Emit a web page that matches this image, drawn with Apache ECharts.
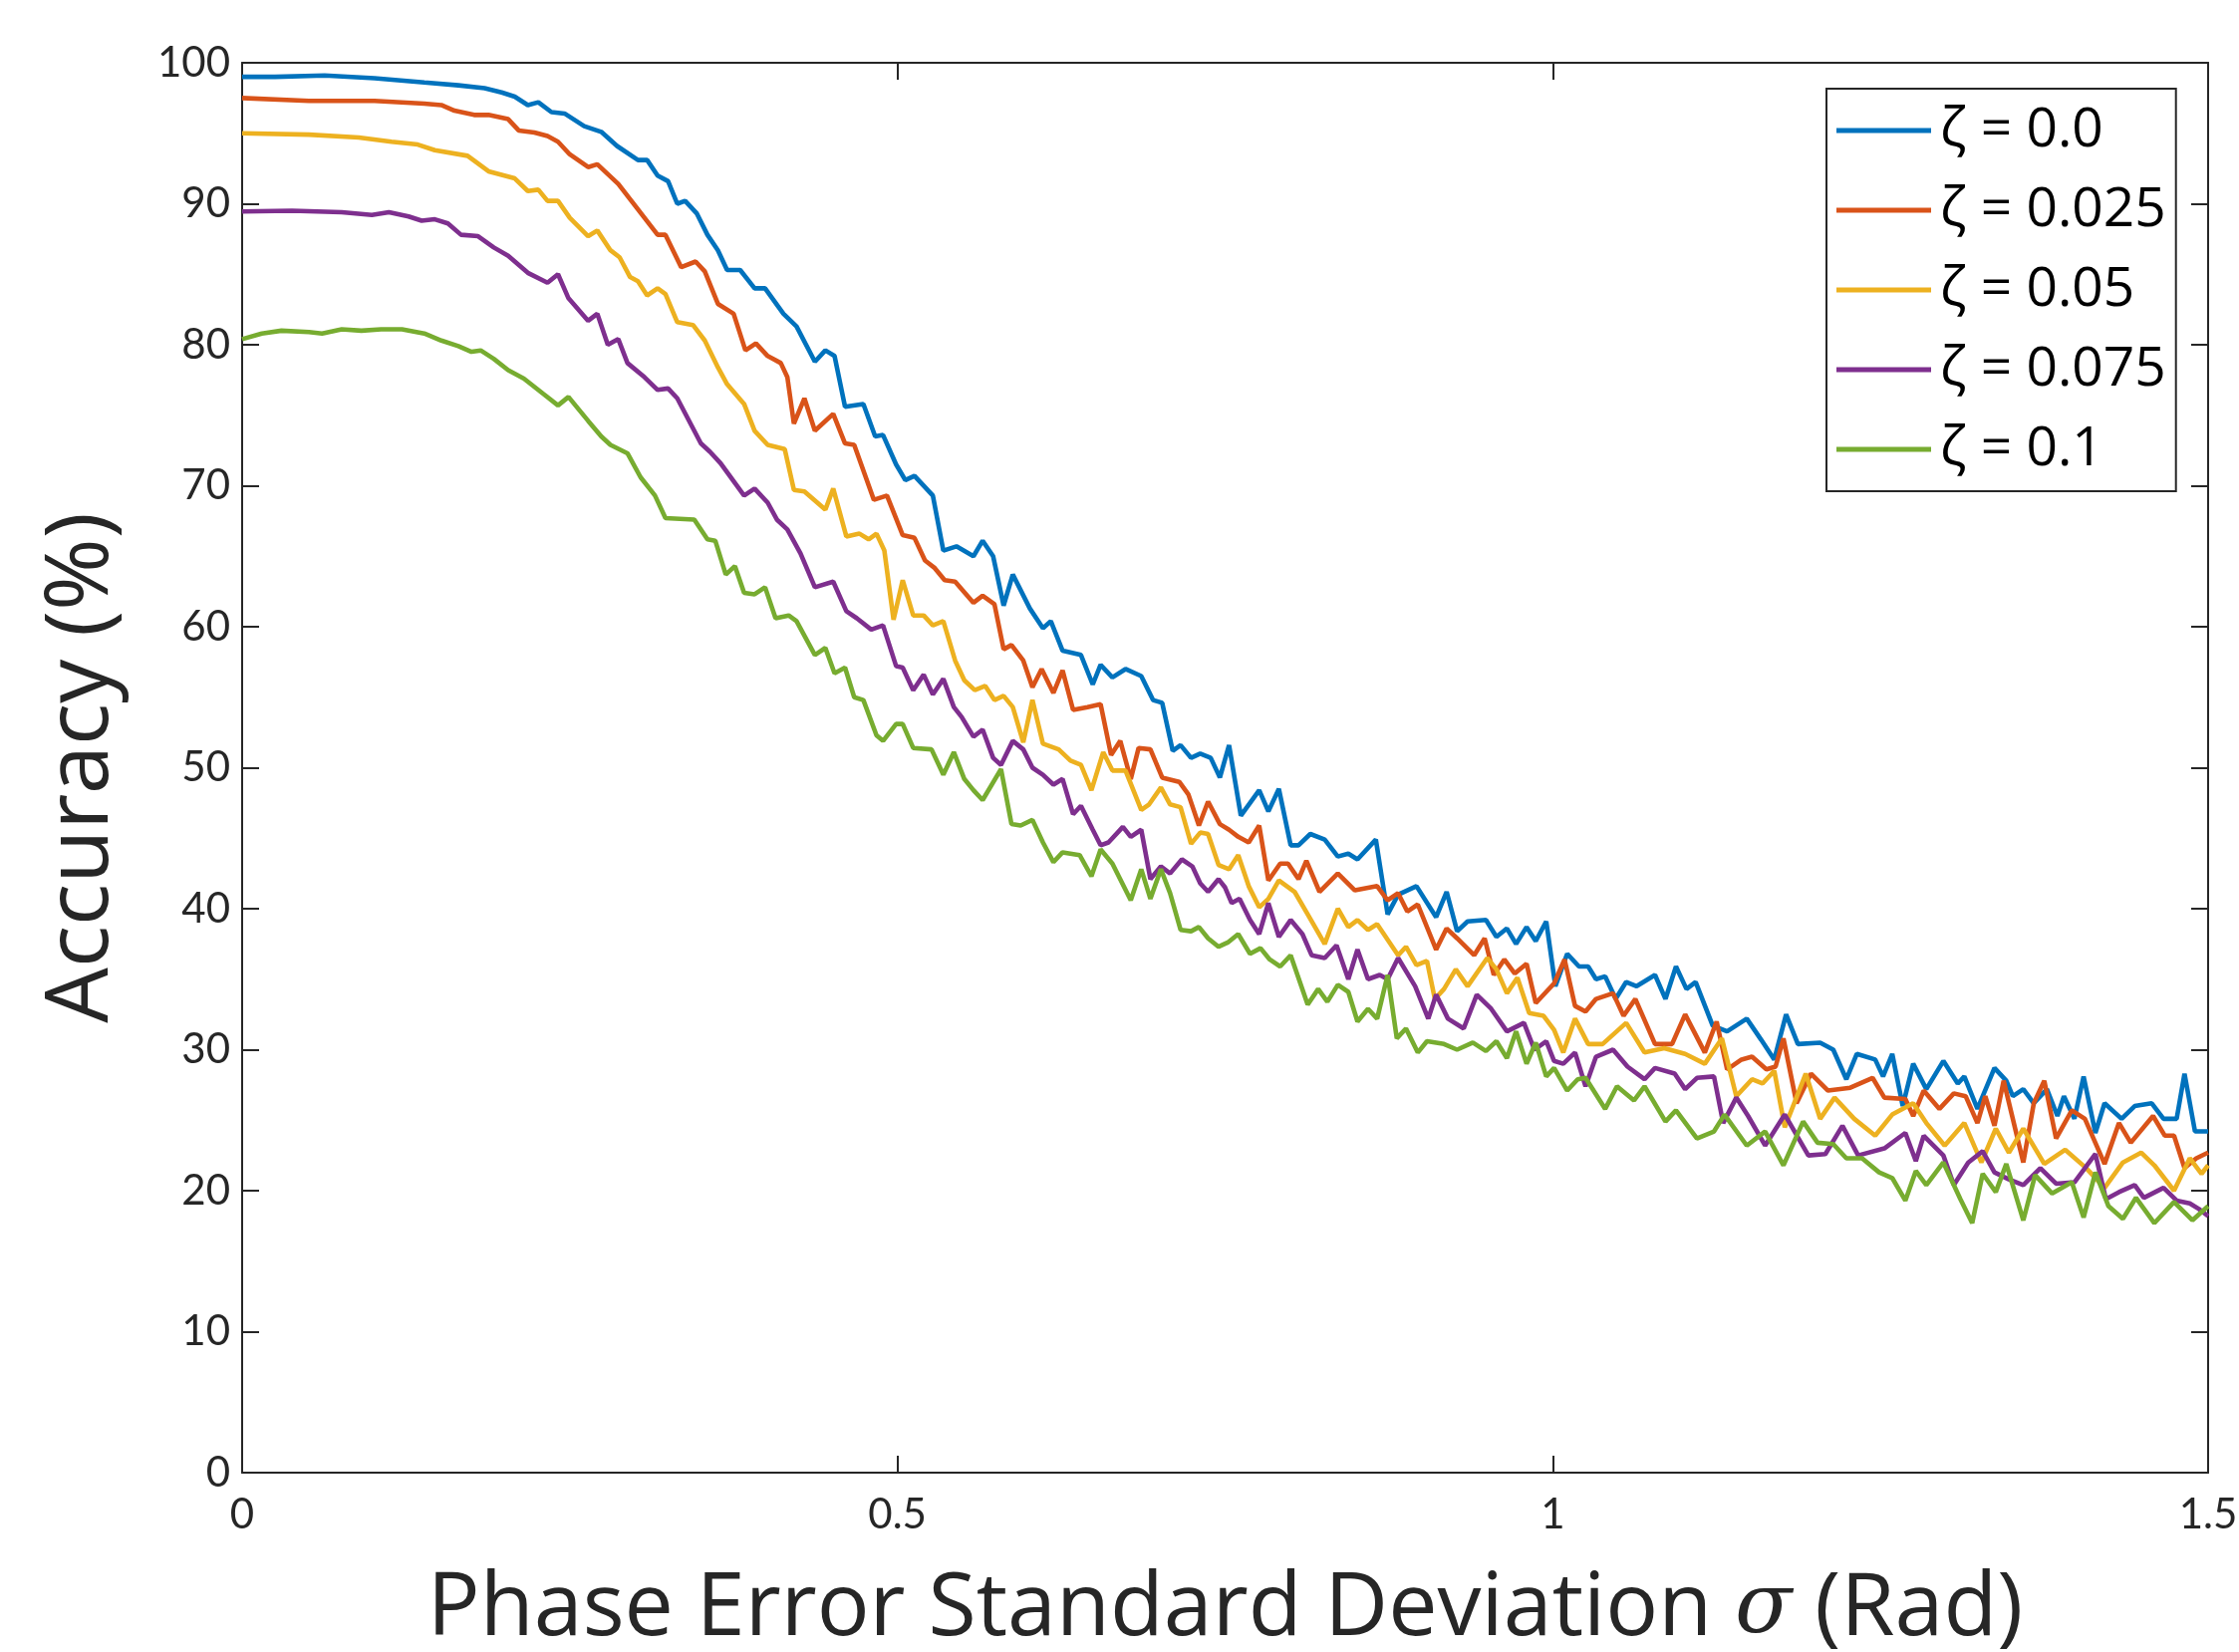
<!DOCTYPE html>
<html>
<head>
<meta charset="utf-8">
<script src="https://cdn.jsdelivr.net/npm/echarts@6/dist/echarts.min.js"></script>
<style>
html,body{margin:0;padding:0;background:#fff;overflow:hidden;}
#chart{width:2247px;height:1658px;}
</style>
</head>
<body>
<div id="chart"></div>
<script>
// ---------- DATA ----------
const seriesNames = ['ζ = 0.0', 'ζ = 0.025', 'ζ = 0.05', 'ζ = 0.075', 'ζ = 0.1'];
const xTicks = [0, 0.5, 1, 1.5];
const yTicks = [0, 10, 20, 30, 40, 50, 60, 70, 80, 90, 100];

const sigma0 = [0,0.025,0.063,0.101,0.139,0.165,0.185,0.198,0.208,0.218,0.226,0.236,0.246,0.261,0.274,0.286,0.302,0.309,0.317,0.325,0.332,0.338,0.347,0.355,0.363,0.370,0.380,0.391,0.399,0.413,0.423,0.437,0.445,0.452,0.460,0.474,0.483,0.489,0.499,0.506,0.513,0.527,0.535,0.545,0.558,0.565,0.573,0.581,0.588,0.601,0.611,0.617,0.626,0.640,0.649,0.655,0.664,0.674,0.686,0.695,0.702,0.710,0.716,0.724,0.731,0.739,0.746,0.753,0.762,0.776,0.783,0.791,0.800,0.806,0.815,0.826,0.836,0.844,0.851,0.865,0.874,0.882,0.896,0.911,0.919,0.927,0.935,0.949,0.957,0.965,0.972,0.980,0.987,0.995,1.002,1.011,1.020,1.027,1.033,1.040,1.048,1.056,1.064,1.078,1.086,1.094,1.102,1.109,1.122,1.133,1.148,1.159,1.169,1.178,1.187,1.204,1.214,1.224,1.232,1.246,1.252,1.259,1.267,1.275,1.285,1.298,1.309,1.314,1.324,1.337,1.346,1.351,1.359,1.367,1.377,1.385,1.390,1.398,1.405,1.414,1.421,1.434,1.444,1.457,1.466,1.476,1.482,1.490,1.500];
const acc0 = [99.0,99.0,99.1,98.9,98.6,98.4,98.2,97.9,97.6,97.0,97.2,96.5,96.4,95.5,95.1,94.1,93.1,93.1,92.0,91.6,90.0,90.2,89.3,87.8,86.7,85.3,85.3,84.0,84.0,82.2,81.3,78.8,79.6,79.2,75.6,75.8,73.5,73.6,71.5,70.4,70.7,69.3,65.4,65.7,65.0,66.1,65.0,61.5,63.7,61.3,59.9,60.4,58.3,58.0,55.9,57.3,56.4,57.0,56.5,54.8,54.6,51.2,51.6,50.7,51.0,50.7,49.3,51.6,46.6,48.4,46.9,48.5,44.5,44.5,45.3,44.9,43.7,43.9,43.5,44.9,39.6,41.0,41.6,39.4,41.2,38.4,39.1,39.2,38.0,38.6,37.5,38.7,37.7,39.1,34.5,36.8,35.9,35.9,35.0,35.2,33.6,34.8,34.5,35.3,33.6,35.9,34.3,34.8,31.7,31.3,32.2,30.7,29.3,32.5,30.4,30.5,30.0,27.9,29.7,29.3,28.1,29.7,26.0,29.0,27.2,29.2,27.6,28.1,25.8,28.7,27.8,26.7,27.2,26.2,27.2,25.3,26.7,25.1,28.1,24.1,26.2,25.1,26.0,26.2,25.1,25.1,28.3,24.2,24.2];

const sigma1 = [0,0.051,0.101,0.139,0.152,0.162,0.177,0.188,0.203,0.211,0.223,0.233,0.241,0.250,0.264,0.271,0.287,0.297,0.317,0.323,0.335,0.346,0.353,0.363,0.375,0.384,0.392,0.401,0.411,0.416,0.421,0.429,0.437,0.451,0.460,0.467,0.482,0.492,0.504,0.513,0.521,0.528,0.536,0.544,0.558,0.565,0.574,0.581,0.587,0.596,0.603,0.610,0.619,0.626,0.634,0.645,0.655,0.663,0.670,0.678,0.684,0.693,0.702,0.715,0.722,0.730,0.737,0.746,0.753,0.760,0.768,0.776,0.783,0.792,0.798,0.806,0.812,0.822,0.836,0.849,0.866,0.874,0.882,0.889,0.897,0.911,0.919,0.927,0.940,0.948,0.955,0.963,0.971,0.980,0.987,1.001,1.009,1.017,1.025,1.033,1.046,1.054,1.063,1.078,1.091,1.101,1.116,1.125,1.133,1.144,1.152,1.163,1.170,1.176,1.186,1.197,1.210,1.227,1.244,1.253,1.269,1.275,1.283,1.295,1.306,1.315,1.324,1.330,1.337,1.344,1.359,1.367,1.375,1.384,1.396,1.406,1.421,1.432,1.441,1.458,1.467,1.474,1.482,1.491,1.500];
const acc1 = [97.5,97.3,97.3,97.1,97.0,96.6,96.3,96.3,96.0,95.2,95.05,94.8,94.4,93.5,92.6,92.8,91.4,90.2,87.8,87.8,85.5,85.9,85.2,82.9,82.2,79.6,80.1,79.2,78.7,77.7,74.4,76.2,73.9,75.1,73.0,72.9,69.0,69.3,66.5,66.3,64.7,64.2,63.3,63.2,61.7,62.2,61.6,58.4,58.7,57.6,55.7,57.0,55.3,56.9,54.1,54.3,54.5,50.9,51.9,49.2,51.4,51.3,49.3,49.0,48.1,45.9,47.6,46.0,45.6,45.1,44.7,45.9,42.0,43.2,43.2,42.1,43.4,41.2,42.5,41.3,41.6,40.6,41.1,39.8,40.3,37.1,38.6,37.9,36.7,37.9,35.3,36.4,35.4,36.1,33.3,34.7,36.4,33.1,32.7,33.6,34.0,32.4,33.6,30.4,30.4,32.5,29.8,32.0,28.6,29.3,29.5,28.6,28.8,30.8,26.2,28.3,27.1,27.3,28.0,26.6,26.5,25.3,27.1,25.8,26.9,26.7,24.8,26.7,24.6,27.8,22.0,26.2,27.8,23.7,25.7,25.1,21.9,24.8,23.4,25.3,23.9,23.9,21.6,22.3,22.7];

const sigma2 = [0,0.051,0.089,0.114,0.134,0.147,0.172,0.188,0.208,0.218,0.226,0.233,0.241,0.250,0.264,0.271,0.281,0.288,0.296,0.302,0.309,0.317,0.323,0.332,0.344,0.353,0.363,0.370,0.383,0.391,0.401,0.414,0.421,0.429,0.445,0.451,0.461,0.471,0.478,0.484,0.490,0.497,0.504,0.512,0.520,0.527,0.535,0.544,0.551,0.559,0.567,0.574,0.581,0.588,0.596,0.603,0.611,0.623,0.632,0.640,0.648,0.657,0.664,0.674,0.686,0.692,0.701,0.708,0.716,0.724,0.731,0.737,0.745,0.753,0.760,0.768,0.776,0.783,0.791,0.803,0.813,0.826,0.836,0.844,0.851,0.859,0.866,0.882,0.888,0.896,0.904,0.910,0.917,0.926,0.935,0.950,0.957,0.965,0.973,0.982,0.993,1.001,1.008,1.017,1.027,1.038,1.056,1.070,1.085,1.101,1.116,1.129,1.140,1.152,1.160,1.169,1.177,1.193,1.204,1.215,1.230,1.246,1.259,1.275,1.285,1.299,1.314,1.327,1.338,1.348,1.359,1.375,1.391,1.407,1.421,1.435,1.449,1.459,1.474,1.486,1.495,1.500];
const acc2 = [95.0,94.9,94.7,94.4,94.2,93.8,93.4,92.3,91.8,90.9,91.0,90.2,90.2,89.0,87.7,88.1,86.7,86.2,84.8,84.5,83.5,84.0,83.6,81.6,81.4,80.3,78.4,77.2,75.8,73.9,72.9,72.6,69.7,69.6,68.3,69.8,66.4,66.6,66.2,66.6,65.4,60.5,63.3,60.8,60.8,60.1,60.4,57.6,56.2,55.5,55.8,54.8,55.1,54.3,51.8,54.8,51.7,51.3,50.5,50.2,48.4,51.1,49.8,49.8,47.0,47.4,48.6,47.4,47.2,44.6,45.4,45.3,43.1,42.8,43.8,41.6,40.1,40.7,42.0,41.2,39.6,37.5,40.0,38.7,39.2,38.5,38.9,36.7,37.3,36.0,36.3,33.6,34.3,35.7,34.5,36.5,35.7,34.0,35.1,32.6,32.4,31.4,29.8,32.2,30.4,30.4,31.9,29.8,30.1,29.7,29.0,30.8,26.7,27.9,27.6,28.5,24.5,28.3,25.1,26.6,25.1,23.9,25.4,26.2,24.8,23.2,24.8,22.0,24.4,22.7,24.4,21.9,22.9,21.6,20.2,22.0,22.7,21.8,20.0,22.3,21.2,21.8];

const sigma3 = [0,0.038,0.076,0.099,0.112,0.127,0.137,0.147,0.157,0.167,0.180,0.192,0.203,0.218,0.233,0.241,0.249,0.264,0.271,0.279,0.287,0.294,0.307,0.317,0.325,0.332,0.350,0.357,0.365,0.383,0.391,0.401,0.408,0.416,0.426,0.437,0.451,0.461,0.469,0.480,0.489,0.499,0.504,0.512,0.520,0.527,0.535,0.543,0.549,0.558,0.565,0.573,0.579,0.588,0.596,0.603,0.611,0.619,0.626,0.634,0.640,0.649,0.655,0.661,0.672,0.678,0.686,0.693,0.701,0.708,0.717,0.725,0.731,0.737,0.745,0.750,0.755,0.761,0.769,0.776,0.783,0.791,0.800,0.809,0.816,0.826,0.835,0.844,0.851,0.859,0.868,0.874,0.882,0.895,0.905,0.911,0.920,0.932,0.942,0.953,0.965,0.978,0.986,0.995,1.001,1.008,1.017,1.025,1.033,1.046,1.057,1.070,1.078,1.093,1.101,1.110,1.123,1.130,1.140,1.149,1.162,1.177,1.195,1.208,1.221,1.233,1.253,1.269,1.277,1.283,1.298,1.306,1.317,1.328,1.337,1.348,1.359,1.372,1.384,1.398,1.414,1.422,1.432,1.444,1.451,1.466,1.476,1.486,1.493,1.500];
const acc3 = [89.45,89.5,89.4,89.2,89.4,89.1,88.8,88.9,88.6,87.8,87.7,86.9,86.3,85.1,84.4,85.0,83.3,81.7,82.2,80.0,80.4,78.7,77.7,76.8,76.9,76.2,73.0,72.4,71.6,69.3,69.8,68.8,67.6,66.9,65.2,62.8,63.2,61.1,60.6,59.8,60.1,57.2,57.1,55.5,56.6,55.2,56.3,54.3,53.6,52.2,52.7,50.7,50.2,51.9,51.3,50.0,49.5,48.8,49.2,46.7,47.3,45.6,44.5,44.7,45.8,45.1,45.6,42.1,43.0,42.5,43.5,43.0,41.8,41.2,42.1,41.5,40.4,40.7,39.2,38.2,40.4,38.0,39.2,38.2,36.7,36.5,37.4,35.0,37.1,35.0,35.3,35.0,36.5,34.5,32.2,33.9,32.2,31.5,33.9,32.9,31.3,31.9,30.0,30.6,29.2,29.0,29.8,27.4,29.5,30.0,28.8,27.9,28.7,28.3,27.2,28.0,28.1,24.8,26.6,25.3,23.2,25.4,22.5,22.6,24.6,22.5,23.0,24.1,22.1,23.9,22.5,20.4,22.0,22.8,21.3,20.8,20.4,21.6,20.5,20.6,22.6,19.4,19.9,20.4,19.5,20.2,19.3,19.1,18.7,18.2];

const sigma4 = [0,0.015,0.030,0.051,0.061,0.076,0.091,0.106,0.122,0.139,0.152,0.165,0.175,0.182,0.192,0.203,0.215,0.230,0.241,0.249,0.264,0.274,0.281,0.294,0.304,0.315,0.323,0.345,0.355,0.361,0.369,0.376,0.383,0.391,0.399,0.407,0.417,0.423,0.437,0.445,0.452,0.460,0.467,0.474,0.484,0.489,0.499,0.504,0.512,0.526,0.535,0.543,0.551,0.558,0.565,0.579,0.587,0.594,0.603,0.611,0.619,0.626,0.639,0.648,0.655,0.664,0.678,0.686,0.693,0.701,0.708,0.716,0.724,0.730,0.737,0.745,0.752,0.760,0.769,0.777,0.784,0.792,0.800,0.813,0.821,0.828,0.836,0.844,0.851,0.859,0.866,0.874,0.881,0.888,0.897,0.904,0.917,0.927,0.939,0.949,0.957,0.965,0.972,0.980,0.987,0.995,1.001,1.011,1.019,1.025,1.040,1.049,1.062,1.070,1.086,1.094,1.110,1.123,1.131,1.148,1.162,1.176,1.191,1.202,1.214,1.224,1.236,1.249,1.259,1.269,1.277,1.285,1.298,1.311,1.320,1.328,1.338,1.346,1.359,1.368,1.381,1.396,1.405,1.414,1.424,1.435,1.445,1.459,1.474,1.488,1.500];
const acc4 = [80.4,80.8,81.0,80.9,80.8,81.1,81.0,81.1,81.1,80.8,80.3,79.9,79.5,79.6,79.0,78.2,77.6,76.5,75.7,76.3,74.6,73.5,72.9,72.3,70.6,69.3,67.7,67.6,66.2,66.1,63.7,64.3,62.4,62.3,62.8,60.6,60.8,60.4,58.0,58.5,56.7,57.1,55.0,54.8,52.3,51.9,53.1,53.1,51.4,51.3,49.5,51.1,49.2,48.4,47.7,49.9,46.0,45.9,46.3,44.7,43.3,44.0,43.8,42.3,44.2,43.2,40.6,42.8,40.7,42.8,41.1,38.5,38.4,38.7,37.9,37.3,37.6,38.2,36.8,37.2,36.4,35.9,36.7,33.2,34.3,33.4,34.6,34.1,32.0,32.9,32.2,35.3,30.8,31.5,29.8,30.6,30.4,30.0,30.5,29.9,30.6,29.4,31.3,29.0,30.5,28.1,28.7,27.1,27.9,28.0,25.8,27.4,26.4,27.4,24.9,25.7,23.7,24.2,25.4,23.2,24.2,21.8,24.9,23.4,23.3,22.3,22.3,21.3,20.9,19.3,21.4,20.4,22.0,19.4,17.7,21.2,19.9,21.9,17.9,21.1,19.8,20.6,18.1,21.3,18.9,18.0,19.5,17.7,19.2,17.9,18.9];

const sigmas = [sigma0, sigma1, sigma2, sigma3, sigma4];
const accs = [acc0, acc1, acc2, acc3, acc4];
const colors = ['#0072BD', '#D95319', '#EDB120', '#7E2F8E', '#77AC30'];

// ---------- CHART ----------
const AX = '#262626';
const TITLE_FONT = '"Open Sans", Lato, sans-serif';
const chart = echarts.init(document.getElementById('chart'), null, {renderer: 'canvas'});

const series = seriesNames.map((name, i) => ({
  name: name,
  type: 'line',
  xAxisIndex: 0,
  yAxisIndex: 0,
  data: sigmas[i].map((s, j) => [s, accs[i][j]]),
  symbol: 'none',
  smooth: false,
  lineStyle: {color: colors[i], width: 4.6},
  itemStyle: {color: colors[i]},
  animation: false
}));

const tickCommon = {show: true, inside: true, length: 17, lineStyle: {color: AX, width: 2}};

chart.setOption({
  backgroundColor: '#ffffff',
  animation: false,
  grid: {left: 243, right: 31, top: 63, bottom: 180, containLabel: false, outerBoundsMode: 'none', show: false},
  legend: {
    orient: 'vertical',
    left: 1833,
    top: 89,
    padding: [12, 10, 12, 10],
    itemGap: 20,
    itemWidth: 95,
    itemHeight: 5,
    icon: 'rect',
    borderColor: AX,
    borderWidth: 2,
    backgroundColor: '#ffffff',
    textStyle: {fontFamily: TITLE_FONT, fontSize: 55, color: '#000', lineHeight: 60, padding: [0, 0, 0, 4]},
    data: seriesNames
  },
  xAxis: [{
    type: 'value',
    min: 0, max: 1.5, interval: 0.5,
    position: 'bottom',
    axisLine: {show: true, onZero: false, lineStyle: {color: AX, width: 2}},
    axisTick: tickCommon,
    splitLine: {show: false},
    axisLabel: {show: true, color: AX, fontFamily: 'Lato, sans-serif', fontSize: 42, margin: 21,
      formatter: v => xTicks.includes(+v.toFixed(2)) ? String(+v.toFixed(2)) : ''},
    name: '{a|Phase Error Standard Deviation }{s|σ}{a| (Rad)}',
    nameLocation: 'middle',
    nameGap: 94,
    nameTextStyle: {
      rich: {
        a: {fontFamily: TITLE_FONT, fontSize: 88, color: AX},
        s: {fontFamily: '"DejaVu Serif", "Liberation Serif", serif', fontStyle: 'italic', fontSize: 84, color: AX}
      }
    }
  }, {
    type: 'value',
    min: 0, max: 1.5, interval: 0.5,
    position: 'top',
    axisLine: {show: true, onZero: false, lineStyle: {color: AX, width: 2}},
    axisTick: tickCommon,
    splitLine: {show: false},
    axisLabel: {show: false}
  }],
  yAxis: [{
    type: 'value',
    min: 0, max: 100, interval: 10,
    position: 'left',
    axisLine: {show: true, onZero: false, lineStyle: {color: AX, width: 2}},
    axisTick: tickCommon,
    splitLine: {show: false},
    axisLabel: {show: true, color: AX, fontFamily: 'Lato, sans-serif', fontSize: 42, margin: 12,
      formatter: v => yTicks.includes(v) ? String(v) : ''},
    name: 'Accuracy (%)',
    nameLocation: 'middle',
    nameGap: 116,
    nameRotate: 90,
    nameTextStyle: {fontFamily: TITLE_FONT, fontSize: 88, color: AX}
  }, {
    type: 'value',
    min: 0, max: 100, interval: 10,
    position: 'right',
    axisLine: {show: true, onZero: false, lineStyle: {color: AX, width: 2}},
    axisTick: tickCommon,
    splitLine: {show: false},
    axisLabel: {show: false}
  }],
  series: series
});
</script>
</body>
</html>
